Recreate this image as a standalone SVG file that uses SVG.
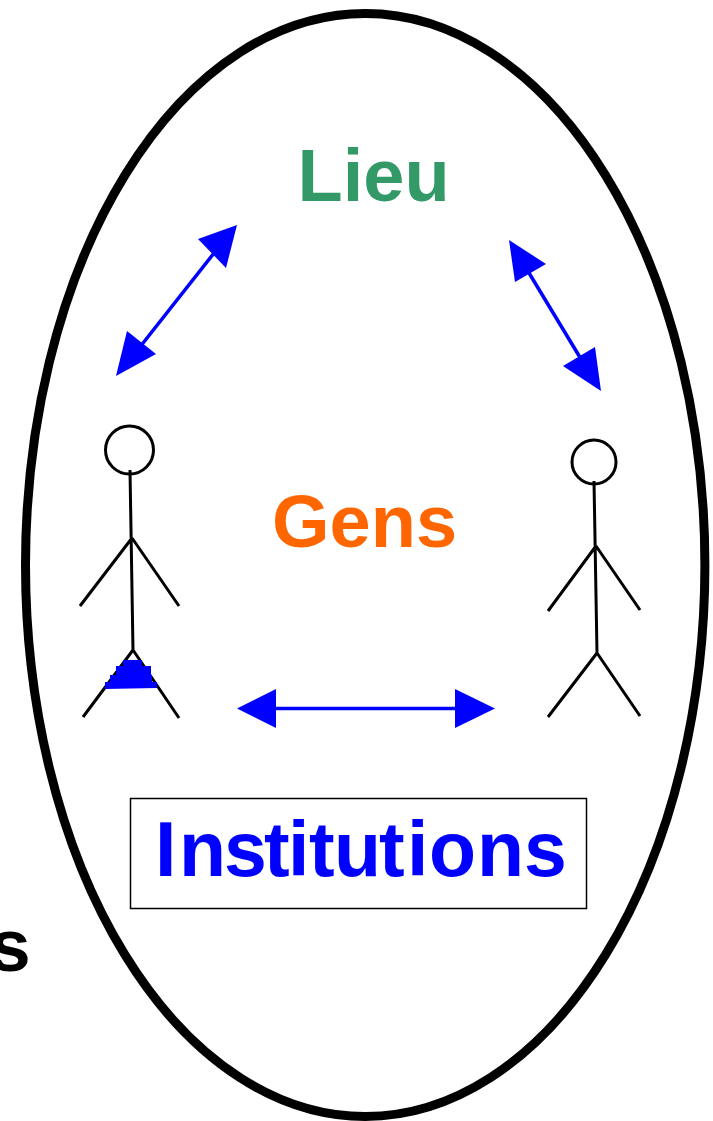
<svg xmlns="http://www.w3.org/2000/svg" width="713" height="1121" viewBox="0 0 713 1121">
<style>
text{font-family:"Liberation Sans",Arial,sans-serif;font-weight:bold;font-size:74px}
.fig{fill:none;stroke:#000;stroke-width:3}
.conn{stroke:#00f;stroke-width:3.500;fill:none}
.head{fill:#00f;stroke:none}
</style>
<rect width="713" height="1121" fill="#fff"/>
<text id="cut-label" x="-10.500" y="971" fill="#000">s</text>
<g id="boundary"><ellipse cx="365.200" cy="565" rx="339.700" ry="551.500" fill="none" stroke="#000" stroke-width="9"/></g>
<g id="lieu"><text x="297.500" y="201" fill="#339966">Lieu</text></g>
<g id="gens"><text x="272" y="547" fill="#FF6600">Gens</text></g>
<g id="institutions">
<rect x="130.500" y="798.500" width="456" height="110" fill="#fff" stroke="#000" stroke-width="1.500"/>
<text y="876" fill="#00f" style="font-size:77px" x="155 179 224 264 288 309 334 379 407 429 477 524">Institutions</text>
</g>
<g id="person-left">
<circle cx="129.500" cy="450" r="24" class="fig"/>
<path class="fig" d="M130 470L133 650M132 538L80 606M132 538L179 606M133 650L83 717M133 650L179 718"/>
<path fill="#00f" d="M105 689V682H110V675H116V666H123V660H142V666H151V675H152V682H157V688Z"/>
</g>
<g id="person-right">
<circle cx="594" cy="462" r="22" class="fig"/>
<path class="fig" d="M594 481L597 653M596 546L548 611M596 546L640 610M597 653L548 717M597 653L640 716"/>
</g>
<g id="connectors">
<path class="conn" d="M218 248L136 352"/>
<polygon class="head" points="237,225 198,239 226,268"/>
<polygon class="head" points="116,376 127,331 156,354"/>
<path class="conn" d="M526 268L584 364"/>
<polygon class="head" points="509,240 546,264 515,282"/>
<polygon class="head" points="601,391 563,366 595,347"/>
<path class="conn" d="M272 708.500H460"/>
<polygon class="head" points="237,708.500 276,689 276,728"/>
<polygon class="head" points="495,708.500 455,689 455,728"/>
</g>
</svg>
